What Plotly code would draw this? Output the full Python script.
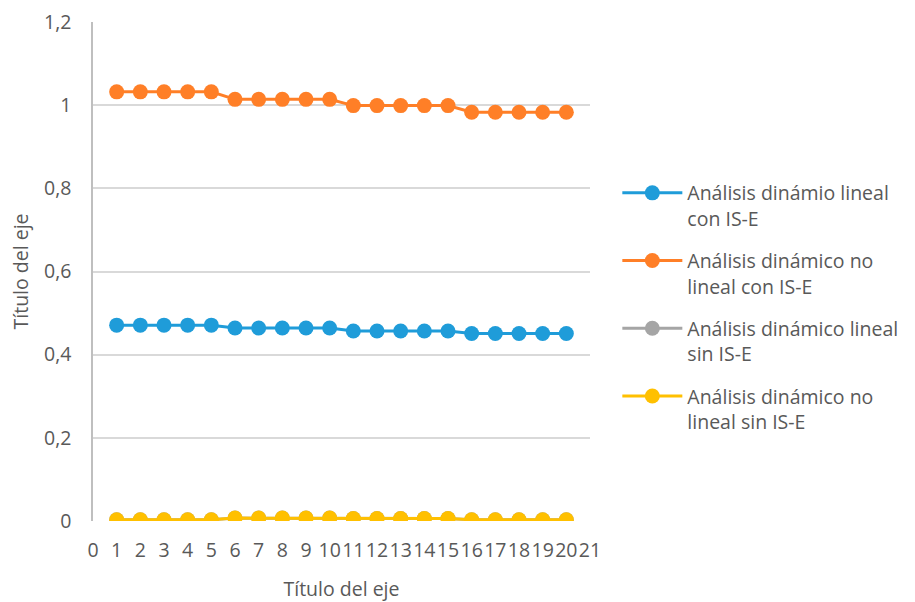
import plotly.graph_objects as go

# Step index on the horizontal axis
steps = list(range(1, 21))

# Ratio values for each analysis case
lineal_con = [0.471, 0.471, 0.471, 0.471, 0.471,
              0.464, 0.464, 0.464, 0.464, 0.464,
              0.457, 0.457, 0.457, 0.457, 0.457,
              0.451, 0.451, 0.451, 0.451, 0.451]
no_lineal_con = [1.032, 1.032, 1.032, 1.032, 1.032,
                 1.014, 1.014, 1.014, 1.014, 1.014,
                 0.999, 0.999, 0.999, 0.999, 0.999,
                 0.983, 0.983, 0.983, 0.983, 0.983]
lineal_sin = [0.003, 0.003, 0.003, 0.003, 0.003,
              0.007, 0.007, 0.007, 0.007, 0.007,
              0.006, 0.006, 0.006, 0.006, 0.006,
              0.003, 0.003, 0.003, 0.003, 0.003]
no_lineal_sin = [0.003, 0.003, 0.003, 0.003, 0.003,
                 0.007, 0.007, 0.007, 0.007, 0.007,
                 0.006, 0.006, 0.006, 0.006, 0.006,
                 0.003, 0.003, 0.003, 0.003, 0.003]

series_names = [
    "Análisis dinámio lineal<br>con IS-E",
    "Análisis dinámico no<br>lineal con IS-E",
    "Análisis dinámico lineal<br>sin IS-E",
    "Análisis dinámico no<br>lineal sin IS-E",
]
series_values = [lineal_con, no_lineal_con, lineal_sin, no_lineal_sin]
series_colors = ["#1f9cd9", "#ff7f27", "#a5a5a5", "#ffc000"]

x_tick_vals = list(range(0, 22))
x_tick_text = [str(v) for v in x_tick_vals]
y_tick_vals = [0, 0.2, 0.4, 0.6, 0.8, 1.0, 1.2]
y_tick_text = ["0", "0,2", "0,4", "0,6", "0,8", "1", "1,2"]

FONT = "Open Sans"
SIZE = 19.5
TEXT = "#595959"
GRID = "#d9d9d9"

fig = go.Figure()
for i, (name, vals, col) in enumerate(zip(series_names, series_values, series_colors)):
    fig.add_trace(go.Scatter(
        x=steps, y=vals, name=name, mode="lines+markers",
        line=dict(color=col, width=3),
        marker=dict(color=col, size=15),
        legendgroup=f"g{i}",
    ))

fig.update_layout(
    width=915, height=602,
    margin=dict(l=93, r=325, t=22, b=81),
    paper_bgcolor="white", plot_bgcolor="white",
    font=dict(family=FONT, size=SIZE, color=TEXT),
    showlegend=True,
    legend=dict(
        x=1.055, xanchor="left", y=0.696, yanchor="top",
        font=dict(family=FONT, size=SIZE, color=TEXT),
        valign="top", tracegroupgap=14, itemwidth=60,
        bgcolor="rgba(0,0,0,0)",
    ),
)

fig.update_xaxes(
    range=[0, 21], tickvals=x_tick_vals, ticktext=x_tick_text, tickangle=0,
    showgrid=False, zeroline=False, showline=False, automargin=False,
    ticks="", ticklabelstandoff=15,
    tickfont=dict(family=FONT, size=SIZE, color=TEXT),
    title=dict(text="Título del eje", font=dict(family=FONT, size=SIZE, color=TEXT), standoff=24),
)
fig.update_yaxes(
    range=[0, 1.2], tickvals=y_tick_vals, ticktext=y_tick_text,
    showgrid=True, gridcolor=GRID, gridwidth=1.5, automargin=False,
    zeroline=False, showline=True, linecolor="#bfbfbf", linewidth=1.5,
    ticks="", ticklabelstandoff=16,
    tickfont=dict(family=FONT, size=SIZE, color=TEXT),
    title=dict(text="Título del eje", font=dict(family=FONT, size=SIZE, color=TEXT), standoff=10),
)

fig.write_html("out.html")
